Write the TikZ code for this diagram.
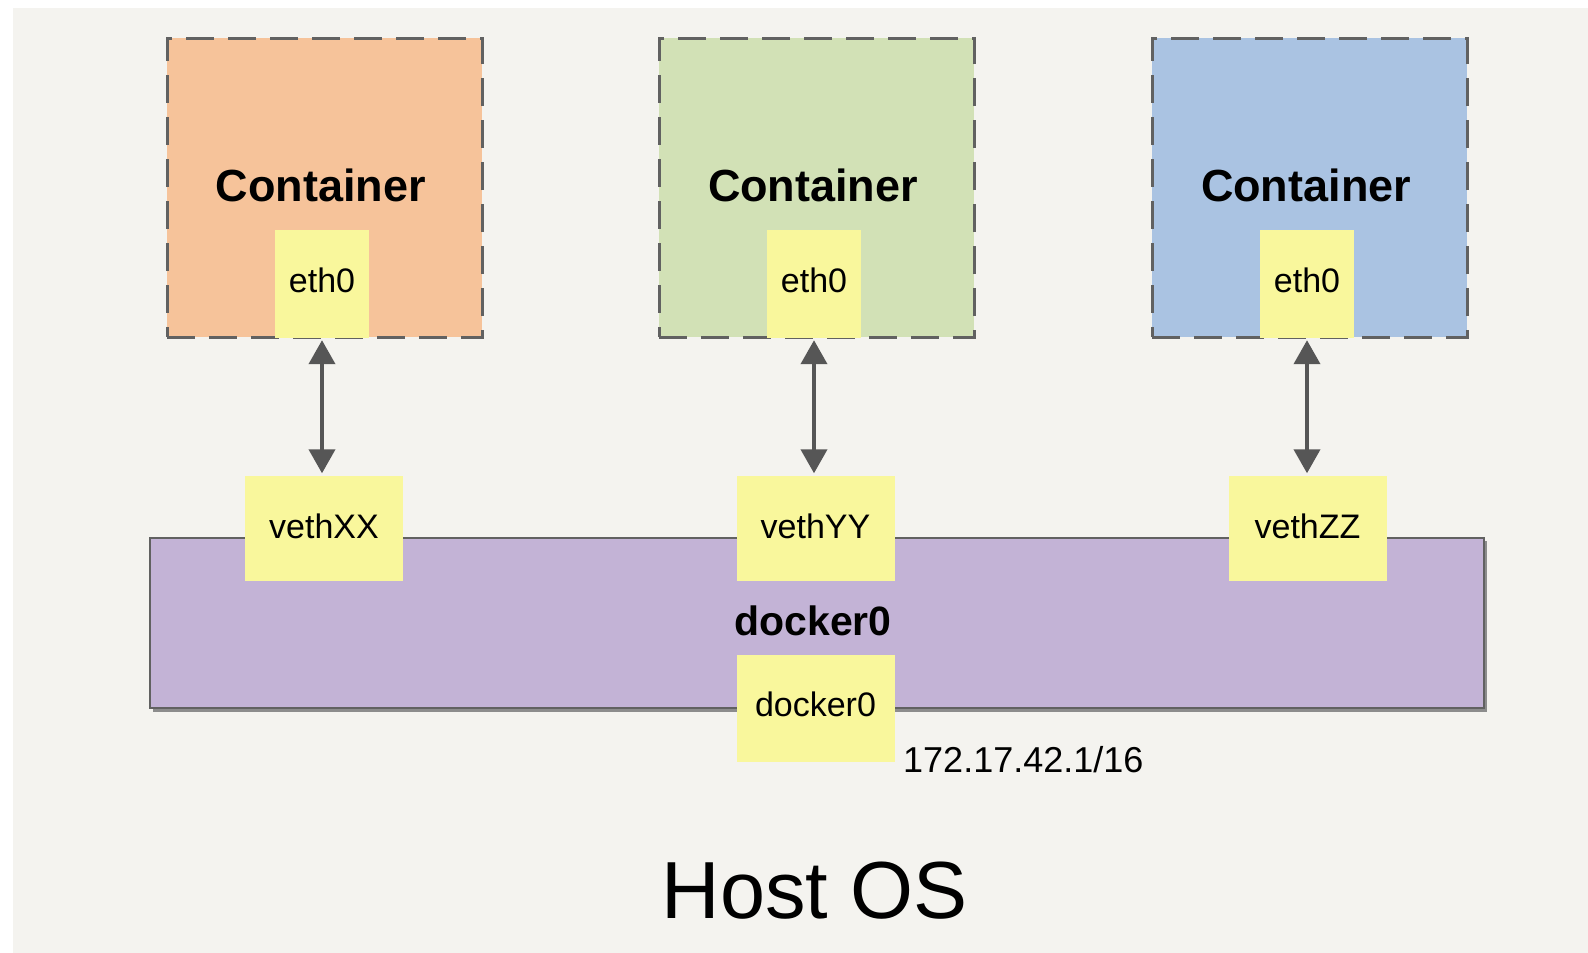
\documentclass[tikz,border=0pt]{standalone}
\usepackage{fontspec}
\setmainfont{Liberation Sans}
\usetikzlibrary{arrows.meta}
\definecolor{bgpanel}{HTML}{F4F3EF}
\definecolor{corange}{HTML}{F6C39A}
\definecolor{cgreen}{HTML}{D2E1B6}
\definecolor{cblue}{HTML}{AAC3E2}
\definecolor{cpurple}{HTML}{C3B3D6}
\definecolor{cyellow}{HTML}{F9F79C}
\definecolor{edgegray}{HTML}{616161}
\definecolor{arrowgray}{HTML}{565656}
\tikzset{
  cbox/.style={draw=edgegray, line width=3pt, dash pattern=on 28pt off 14pt, minimum width=315pt, minimum height=299pt, inner sep=0pt},
  ybox/.style={fill=cyellow, inner sep=0pt},
  ylabel/.style={inner sep=0pt, font=\fontsize{34}{40}\selectfont},
  ctitle/.style={font=\bfseries\fontsize{45}{54}\selectfont, inner sep=0pt},
  link/.style={draw=arrowgray, line width=4pt, {Triangle[length=24pt,width=26pt]}-{Triangle[length=24pt,width=26pt]}, shorten <=2pt, shorten >=2pt},
}
\begin{document}
\begin{tikzpicture}[x=1pt,y=-1pt]
\useasboundingbox (0,0) rectangle (1588,953);
\fill[white] (0,0) rectangle (1588,953);
\fill[bgpanel] (13,8) rectangle (1588,953);
% containers
\node[cbox, fill=corange] (c1) at (324.5,187.5) {};
\node[cbox, fill=cgreen] (c2) at (816.5,187.5) {};
\node[cbox, fill=cblue] (c3) at (1309.5,187.5) {};
\node[ctitle] (t1) at (321,185) {Container};
\node[ctitle] (t2) at (813,185) {Container};
\node[ctitle] (t3) at (1306,185) {Container};
% eth0
\node[ybox, minimum width=94pt, minimum height=108pt] (e1) at (322,284) {};
\node[ybox, minimum width=94pt, minimum height=108pt] (e2) at (814,284) {};
\node[ybox, minimum width=94pt, minimum height=108pt] (e3) at (1307,284) {};
\node[ylabel] (e1l) at (322,280) {eth0};
\node[ylabel] (e2l) at (814,280) {eth0};
\node[ylabel] (e3l) at (1307,280) {eth0};
% bridge
\fill[black!45] (153,541) rectangle (1487,712);
\node[draw=edgegray, line width=2pt, fill=cpurple, minimum width=1334pt, minimum height=170pt, inner sep=0pt] (br) at (817,623) {};
\node[font=\bfseries\fontsize{41}{49}\selectfont, inner sep=0pt] (bl) at (813,621) {docker0};
% veth
\node[ybox, minimum width=158pt, minimum height=105pt] (v1) at (324,528) {};
\node[ybox, minimum width=158pt, minimum height=105pt] (v2) at (815.5,528) {};
\node[ybox, minimum width=158pt, minimum height=105pt] (v3) at (1307.5,528) {};
\node[ylabel] (v1l) at (324,526) {vethXX};
\node[ylabel] (v2l) at (815.5,526) {vethYY};
\node[ylabel] (v3l) at (1307.5,526) {vethZZ};
\node[ybox, minimum width=158pt, minimum height=107pt] (d0) at (815.5,708.5) {};
\node[ylabel] (d0l) at (815.5,704) {docker0};
\node[anchor=west, inner sep=0pt, font=\fontsize{36}{42}\selectfont] (ip) at (903,760) {172.17.42.1/16};
\node[inner sep=0pt, font=\fontsize{81}{96}\selectfont] (host) at (815,891) {Host OS};
% links
\draw[link] (e1.south) -- (e1.south |- v1.north);
\draw[link] (e2.south) -- (e2.south |- v2.north);
\draw[link] (e3.south) -- (e3.south |- v3.north);
\end{tikzpicture}
\end{document}
